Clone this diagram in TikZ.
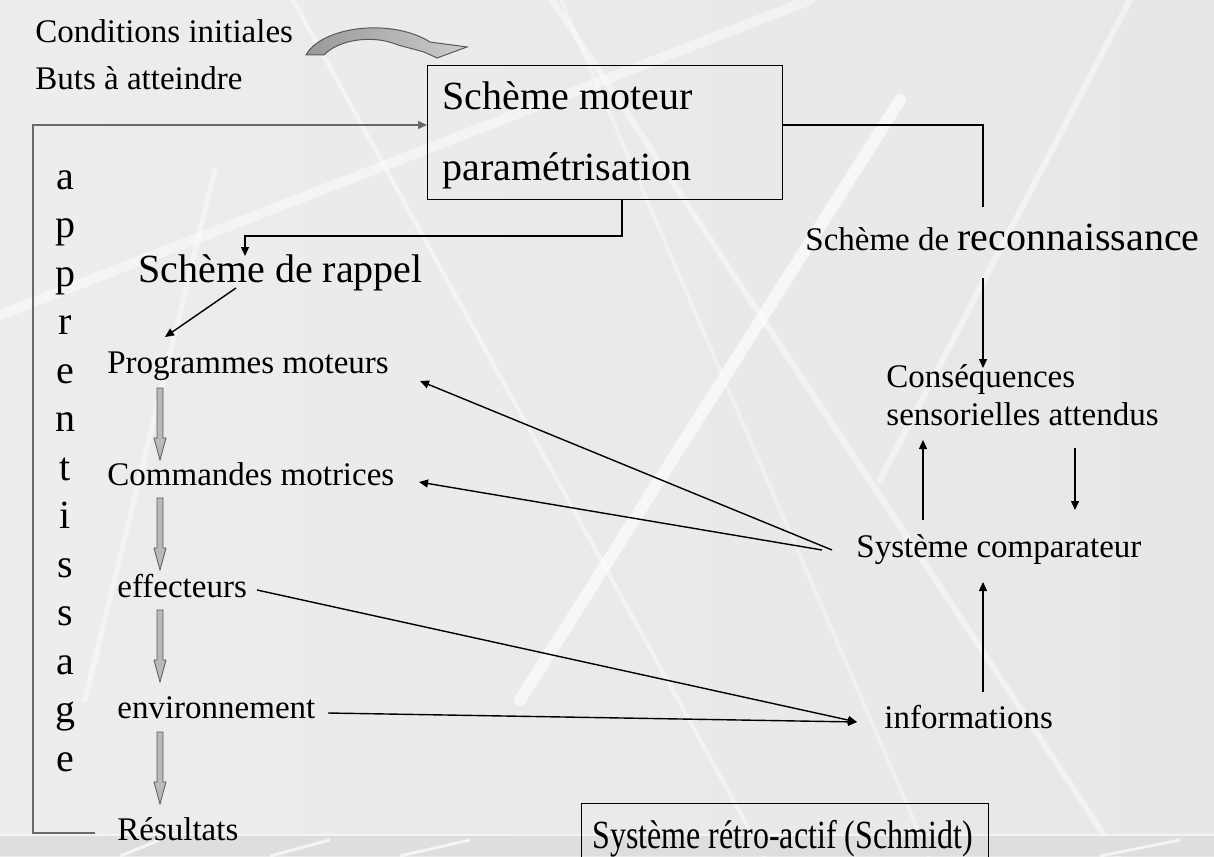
\documentclass[tikz,border=0pt]{standalone}
\usepackage{fontspec}
\setmainfont{Liberation Serif}
\usetikzlibrary{calc,arrows.meta}
\definecolor{bgc}{RGB}{231,231,231}
\definecolor{bgl}{RGB}{237,237,237}
\definecolor{stripc}{RGB}{222,222,222}
\definecolor{loopc}{RGB}{105,105,105}
\begin{document}
\begin{tikzpicture}[x=0.5pt,y=-0.5pt,
  txt/.style={inner sep=0pt, anchor=base west, font=\fontsize{16.5}{20}\selectfont},
  bigtxt/.style={inner sep=0pt, anchor=base west, font=\fontsize{20}{24}\selectfont},
  conn/.style={line width=0.7pt, black},
  arr/.style={conn, -{Triangle[length=4.5pt,width=4pt]}},
  streak/.style={white, opacity=0.45, line cap=round},
  blockarrow/.pic={\filldraw[fill=gray!55, draw=black!65, line width=0.4pt] (-3,0) -- (3,0) -- (3,50) -- (6,50) -- (0,72) -- (-6,50) -- (-3,50) -- cycle;}
]
\useasboundingbox (0,0) rectangle (1214,856);
\clip (0,0) rectangle (1214,856);
% background
\shade[left color=bgl, right color=bgc] (0,0) rectangle (1214,856);
\draw[streak, line width=5pt] (0,315) -- (810,0);
\draw[streak, line width=2pt] (293,0) -- (764,856);
\draw[streak, line width=6pt, opacity=0.65] (900,100) -- (520,700);
\draw[streak, line width=3pt] (552,0) -- (1118,856);
\draw[streak, line width=2pt, opacity=0.35] (561,0) -- (929,856);
\draw[streak, line width=3pt] (1130,0) -- (880,480);
\draw[streak, line width=2.5pt] (215,170) -- (85,700);
\fill[stripc] (0,835) rectangle (1214,856);
\draw[white, opacity=0.6, line width=1pt] (0,835) -- (1214,835);
\foreach \a/\b in {120/160,270/330,400/470,1100/1180}
  \draw[white, opacity=0.7, line width=1.5pt] (\a,856) -- (\b,840);

% texts
\node[txt] (cond) at (35,43) {Conditions initiales};
\node[txt] (buts) at (35,90) {Buts à atteindre};
\node[draw, line width=0.7pt, anchor=north west, minimum width=177.5pt, minimum height=67pt, inner sep=0pt] (moteur) at (427,65) {};
\node[bigtxt] (sm) at (442,110) {Schème moteur};
\node[bigtxt] (param) at (442,180) {paramétrisation};
\node[bigtxt] (rappel) at (138,282) {Schème de rappel};
\node[txt] (reco) at (805,250) {Schème de {\fontsize{20}{24}\selectfont reconnaissance}};
\node[txt] (cons1) at (886,387) {Conséquences};
\node[txt] (cons2) at (886,425) {sensorielles attendus};
\node[txt] (comp) at (856,557) {Système comparateur};
\node[txt] (info) at (884,728) {informations};
\node[txt] (prog) at (107,373) {Programmes moteurs};
\node[txt] (comm) at (107,485) {Commandes motrices};
\node[txt] (eff) at (117,597) {effecteurs};
\node[txt] (env) at (117,718) {environnement};
\node[txt] (res) at (117,840) {Résultats};
\foreach \c [count=\k from 0] in {a,p,p,r,e,n,t,i,s,s,a,g,e}
  \node[bigtxt, anchor=base] (ap\k) at (65,{189+48.5*\k}) {\c};
\node[draw, line width=0.7pt, anchor=north west, minimum width=203.5pt, minimum height=40pt, inner sep=0pt] (sbox) at (581,803) {};
\node[inner sep=0pt, anchor=base west] (schmidt) at (592,848) {\scalebox{0.8}[1]{\fontsize{20}{24}\selectfont Système rétro-actif (Schmidt)}};

% curved arrow
\shade[left color=gray!80, right color=gray!40, draw=black!65, line width=0.5pt]
  (306,55) .. controls (322,26) and (392,18) .. (430,42) -- (467,47) -- (437,58) -- (424,52) -- (398,45)
  .. controls (372,34) and (338,40) .. (324,55) -- cycle;

% coordinates
\coordinate (resL) at (95,833);
\coordinate (loopBL) at (33,833);
\coordinate (loopTL) at (33,125);
\coordinate (mE) at ($(moteur.north east)+(0,60)$);
\coordinate (mW) at ($(moteur.north west)+(0,60)$);
\coordinate (recoTop) at (983,207);
\coordinate (mS) at (622,199);
\coordinate (rapTop) at (245,256);
\coordinate (rapOut) at (236,288);
\coordinate (progIn) at (165,337);
\coordinate (recoOut) at (983,278);
\coordinate (consIn) at (983,368);
\coordinate (compUpOut) at (923,520);
\coordinate (consUpIn) at (923,440);
\coordinate (consDnOut) at (1075,448);
\coordinate (compDnIn) at (1075,510);
\coordinate (infoOut) at (983,692);
\coordinate (compIn) at (983,582);
\coordinate (compOut1) at (832,550);
\coordinate (compOut2) at (822,550);
\coordinate (progR) at (420,381);
\coordinate (commR) at (419,482);
\coordinate (effR) at (257,590);
\coordinate (envR) at (328,713);
\coordinate (infoIn) at (857,722);

% connectors
\draw[line width=0.7pt, loopc, -{Triangle[length=4.5pt,width=4pt]}] (resL) -- (loopBL) -- (loopTL) -- (mW);
\draw[conn] (mE) -| (recoTop);
\draw[arr] (mS) -- (622,236) -| (rapTop);
\draw[arr] (rapOut) -- (progIn);
\draw[arr] (recoOut) -- (consIn);
\draw[arr] (compUpOut) -- (consUpIn);
\draw[arr] (consDnOut) -- (compDnIn);
\draw[arr] (infoOut) -- (compIn);
\draw[arr] (compOut1) -- (progR);
\draw[arr] (compOut2) -- (commR);
\draw[arr] (effR) -- (infoIn);
\draw[arr] (envR) -- (infoIn);

% block arrows
\pic at (160,388) {blockarrow};
\pic at (160,498) {blockarrow};
\pic at (160,610) {blockarrow};
\pic at (160,732) {blockarrow};
\end{tikzpicture}
\end{document}
